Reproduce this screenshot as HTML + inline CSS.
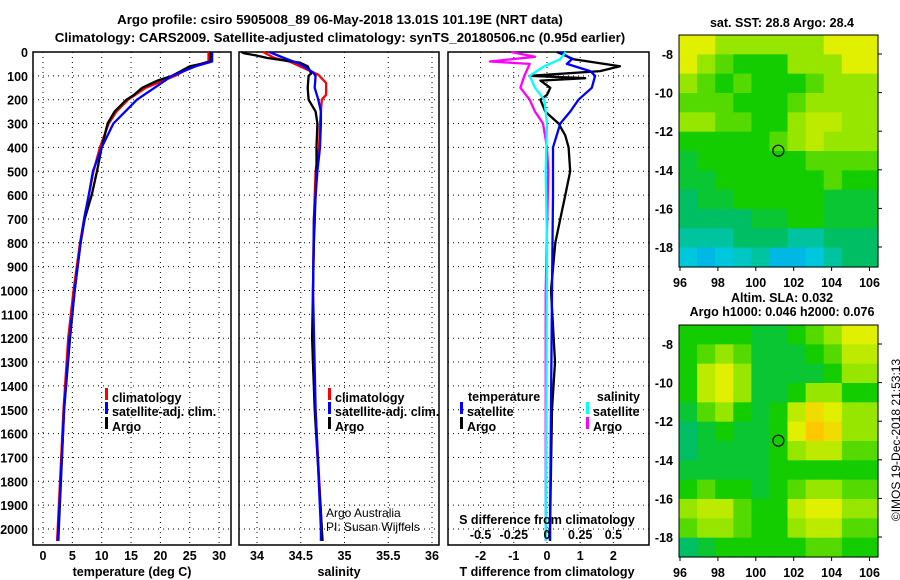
<!DOCTYPE html>
<html><head><meta charset="utf-8"><style>
html,body{margin:0;padding:0;background:#fff;}
svg{display:block;font-family:"Liberation Sans",sans-serif;}
.b{font-weight:bold;font-size:13.3px;}
.t{font-weight:bold;font-size:12.5px;}
</style></head><body>
<svg id="chart" width="900" height="580" viewBox="0 0 900 580" xmlns="http://www.w3.org/2000/svg">
<text class="b" x="340" y="24" text-anchor="middle">Argo profile: csiro 5905008_89 06-May-2018 13.01S 101.19E (NRT data)</text>
<text class="b" x="340" y="42" text-anchor="middle">Climatology: CARS2009. Satellite-adjusted climatology: synTS_20180506.nc (0.95d earlier)</text>
<g id="p1"></g>
<g id="p2"></g>
<g id="p3"></g>
<g id="m1"></g>
<g id="m2"></g>
<text x="897" y="440" font-size="12" text-anchor="middle" transform="rotate(-90 897 440)" dominant-baseline="middle">©IMOS 19-Dec-2018 21:53:13</text>
</svg>
<script>
// ---- data ----
const depthTicks = [0,100,200,300,400,500,600,700,800,900,1000,1100,1200,1300,1400,1500,1600,1700,1800,1900,2000];
const tempTicks = [0,5,10,15,20,25,30];
const salTicks = [34,34.5,35,35.5,36];
const salTickLabels = ["34","34.5","35","35.5","36"];
const tdiffTicks = [-2,-1,0,1,2];
const sdiffTicks = [-0.5,-0.25,0,0.25,0.5];
const sdiffTickLabels = ["-0.5","-0.25","0","0.25","0.5"];

const argoTempDepth = [0,40,50,60,80,100,120,150,180,200,250,300,400,500,600,700,800,900,1000,1200,1500,2000,2050];
const argoTemp      = [28.5,28.5,27,25,23.5,22,19.5,16.9,15.5,14.2,12.2,11,10,9.2,8.3,7.1,6.4,5.9,5.4,4.6,3.6,2.7,2.6];
const climTempDepth = [0,40,60,80,100,150,200,250,300,400,500,600,700,800,1000,1200,1500,2000,2050];
const climTemp      = [28.2,28.2,25.5,24,22.5,17.5,14.5,12.5,11.2,9.7,8.6,7.8,7,6.3,5.2,4.3,3.5,2.5,2.4];
const satTempDepth  = [0,40,60,80,100,150,200,250,300,400,500,600,700,800,1000,1200,1500,2000,2050];
const satTemp       = [28.8,28.8,26,24,22,19,16,14,12,10,8.5,7.8,7,6.4,5.4,4.5,3.6,2.6,2.5];

const argoSalDepth = [0,5,15,25,45,60,90,100,150,200,250,300,400,500,600,800,1000,1200,1500,2000,2050];
const argoSal      = [33.82,33.85,34.0,34.12,34.49,34.58,34.62,34.59,34.58,34.59,34.67,34.69,34.68,34.68,34.67,34.65,34.64,34.63,34.66,34.74,34.75];
const climSalDepth = [0,25,40,65,95,130,180,200,250,300,400,500,700,1000,1300,2000,2050];
const climSal      = [34.07,34.2,34.37,34.52,34.7,34.79,34.79,34.74,34.73,34.72,34.71,34.67,34.65,34.64,34.64,34.74,34.74];
const satSalDepth  = [0,25,50,85,100,150,200,250,300,400,500,700,1000,1500,2000,2050];
const satSal       = [34.14,34.31,34.49,34.64,34.67,34.66,34.7,34.73,34.73,34.72,34.69,34.65,34.64,34.67,34.73,34.73];

const tdArgoDepth = [0,30,60,80,100,110,120,150,180,200,250,300,350,400,500,600,700,800,1000,1300,1500,2000,2050];
const tdArgo      = [0.3,0.8,2.2,1.6,-0.5,1.15,-0.2,0.1,0,-0.2,-0.05,0.35,0.55,0.65,0.7,0.55,0.4,0.25,0.12,0.24,0.15,0.09,0.09];
const tdSatDepth  = [0,30,50,80,100,150,200,250,300,400,600,1000,2000,2050];
const tdSat       = [0.4,0.75,0.6,1.3,1.45,1.35,0.95,0.7,0.4,0.18,0.18,0.15,0.09,0.09];
const sdSatDepth  = [0,30,60,100,150,200,300,500,800,2000,2050];
const sdSat       = [0.14,0.1,-0.02,-0.13,-0.09,-0.02,0,-0.01,0,-0.01,-0.01];
const sdArgoDepth = [0,20,40,50,100,150,200,250,300,400,500,1000,2000,2050];
const sdArgo      = [-0.27,-0.09,-0.43,-0.13,-0.17,-0.2,-0.13,-0.09,-0.03,0,0.01,-0.01,-0.01,-0.01];

const lonTicks = [96,98,100,102,104,106];
const latTicks = [-8,-10,-12,-14,-16,-18];
const floatLon = 101.19, floatLat = -13.01;
const sstGrid = [
 [5,5,4,4,4,4,4,4,5,5,5],
 [5,4,3.5,3,3,3,4,4,4,5,5],
 [4,3.5,3,3.5,3,3,3,3.5,4,4,4],
 [3.5,3.5,3.5,3,3,3,3.5,4,4,4,4],
 [4,4,3.5,3.5,3,3,4,4.5,4.5,4,4],
 [3,3,3,3,3,3.5,4,4.5,4,4,4],
 [2.5,3,3,3,3,3,3,3.5,3.5,3.5,3.5],
 [2.5,2.5,3,3,3,3,3,3,3.5,3,3],
 [2,2.5,2.5,3,3,3,3,3,2.5,2.5,2.5],
 [2,2,2,2,2.5,2.5,3,3,2.5,2.5,2.5],
 [1.5,1.5,1.5,2,2,2,1.5,1.5,2,2,2],
 [1,0.8,1,1.2,1.5,0.8,0.8,1,1.5,2,2]];
const slaGrid = [
 [3,3,3,3,2.5,2.5,3,3.5,4,5,5],
 [3,3.5,4,3.5,2.5,2.5,2.5,3,3.5,4.5,4.5],
 [3,4.5,5,4,2.5,2.5,2.5,2.5,3,4,4],
 [3,4.5,5,4,2.5,2.5,3,4,4,3,3],
 [2.5,3.5,4,3,2.5,3,4.5,5.5,5,4,4],
 [2,2.5,3,2.5,2.5,3,5,6,5.5,4,4],
 [2,2.5,2.5,2.5,2.5,3,4,4.5,4.5,3.5,3.5],
 [2.5,2.5,2.5,2.5,2.5,3,3,3,3,3,3],
 [3,3.5,3,3,2.5,3,3.5,4,4,3.5,3.5],
 [4,4.5,4.5,3.5,3,3,4.5,5,5,4,4],
 [3.5,4,4,3.5,3,3,4,4.5,4.5,3.5,3.5],
 [2,2.5,3,3,3,3,3,3.5,3.5,3,3]];

// ---- helpers ----
const NS = "http://www.w3.org/2000/svg";
function mk(parent, tag, attrs){const e=document.createElementNS(NS,tag);for(const k in attrs)e.setAttribute(k,attrs[k]);parent.appendChild(e);return e;}
const Y0=52, YB=545;
const yD = d => Y0 + d*0.2385;
const xT = t => 43 + t*5.87;
const xS = s => 257 + (s-34)*87.5;
const xTD = v => 547 + v*33.2;
const xSD = v => 547 + v*132.8;

function panel(g, x0, x1, xticks, xfn, showDepthLabels){
  for(const d of depthTicks){
    const l=mk(g,'line',{x1:x0,x2:x1,y1:yD(d),y2:yD(d),stroke:'#000','stroke-width':1,'stroke-dasharray':'1 4'});
    
    
    if(showDepthLabels){
      const t=mk(g,'text',{x:28,y:yD(d)+5,'text-anchor':'end',class:'t'});t.textContent=d;
      
      
    }
  }
  for(const v of xticks){
    const l=mk(g,'line',{x1:xfn(v),x2:xfn(v),y1:Y0,y2:YB,stroke:'#000','stroke-width':1,'stroke-dasharray':'1 4'});
    
    
  }
  const f=mk(g,'rect',{x:x0,y:Y0,width:x1-x0,height:YB-Y0,fill:'none',stroke:'#000','stroke-width':1.5});
  
  
}
function series(g, depths, vals, xfn, color, name, w){
  const pts=depths.map((d,i)=>xfn(vals[i]).toFixed(1)+','+yD(d).toFixed(1)).join(' ');
  const p=mk(g,'polyline',{points:pts,fill:'none',stroke:color,'stroke-width':w||2.3,'stroke-linejoin':'round'});
  
  
}
function txt(g,x,y,s,cls,anchor,name,extra){
  const t=mk(g,'text',Object.assign({x:x,y:y,'text-anchor':anchor||'start'},cls?{class:cls}:{},extra||{}));t.textContent=s;
  
  
  return t;
}
function legendMark(g,x,y,color){
  const r=mk(g,'rect',{x:x,y:y-10,width:3,height:12,fill:color});
  
  
}

// ---- panel 1: temperature ----
const p1=document.getElementById('p1');
panel(p1,33,231,tempTicks,xT,true);
series(p1,climTempDepth,climTemp,xT,'#f00','climatology-temp-line');
series(p1,argoTempDepth,argoTemp,xT,'#000','argo-temp-line');
series(p1,satTempDepth,satTemp,xT,'#00f','satellite-temp-line');
tempTicks.forEach(v=>txt(p1,xT(v),560,v,'t','middle','temp-tick-label'));
txt(p1,132,576,'temperature (deg C)','t','middle','x-axis-title-temperature');
legendMark(p1,105,398,'#f00');txt(p1,112,402,'climatology','t','start','legend-entry-climatology');
legendMark(p1,105,412,'#00f');txt(p1,112,416,'satellite-adj. clim.','t','start','legend-entry-satellite');
legendMark(p1,105,427,'#000');txt(p1,112,431,'Argo','t','start','legend-entry-argo');

// ---- panel 2: salinity ----
const p2=document.getElementById('p2');
panel(p2,239,439,salTicks,xS,false);
series(p2,climSalDepth,climSal,xS,'#f00','climatology-salinity-line');
series(p2,argoSalDepth,argoSal,xS,'#000','argo-salinity-line');
series(p2,satSalDepth,satSal,xS,'#00f','satellite-salinity-line');
salTicks.forEach((v,i)=>txt(p2,xS(v),560,salTickLabels[i],'t','middle','salinity-tick-label'));
txt(p2,339,576,'salinity','t','middle','x-axis-title-salinity');
legendMark(p2,328,398,'#f00');txt(p2,335,402,'climatology','t','start','legend-entry-climatology');
legendMark(p2,328,412,'#00f');txt(p2,335,416,'satellite-adj. clim.','t','start','legend-entry-satellite');
legendMark(p2,328,427,'#000');txt(p2,335,431,'Argo','t','start','legend-entry-argo');
txt(p2,326,517,'Argo Australia',null,'start','credit-argo-australia',{'font-size':'12'});
txt(p2,326,531,'PI: Susan Wijffels',null,'start','credit-pi',{'font-size':'12'});

// ---- panel 3: differences ----
const p3=document.getElementById('p3');
panel(p3,448,649,tdiffTicks,xTD,false);
series(p3,sdArgoDepth,sdArgo,xSD,'#f0f','argo-salinity-diff-line');
series(p3,tdArgoDepth,tdArgo,xTD,'#000','argo-temp-diff-line');
series(p3,tdSatDepth,tdSat,xTD,'#00f','satellite-temp-diff-line');
series(p3,sdSatDepth,sdSat,xSD,'#0ff','satellite-salinity-diff-line');
tdiffTicks.forEach(v=>txt(p3,xTD(v),560,v,'t','middle','tdiff-tick-label'));
sdiffTicks.forEach((v,i)=>txt(p3,xSD(v),539,sdiffTickLabels[i],'t','middle','sdiff-tick-label'));
txt(p3,547,524,'S difference from climatology','t','middle','s-difference-axis-title');
txt(p3,547,576,'T difference from climatology','t','middle','x-axis-title-tdiff');
txt(p3,468,401,'temperature','t','start','legend-title-temperature');
legendMark(p3,460,412,'#00f');txt(p3,467,416,'satellite','t','start','legend-entry-temp-satellite');
legendMark(p3,460,427,'#000');txt(p3,467,431,'Argo','t','start','legend-entry-temp-argo');
txt(p3,640,401,'salinity','t','end','legend-title-salinity');
legendMark(p3,586,412,'#0ff');txt(p3,593,416,'satellite','t','start','legend-entry-sal-satellite');
legendMark(p3,586,427,'#f0f');txt(p3,593,431,'Argo','t','start','legend-entry-sal-argo');

// ---- maps ----
const stops=[[0,120,255],[0,200,220],[0,190,100],[20,205,0],[150,230,0],[225,240,0],[255,200,0]];
function cmap(v){const i=Math.max(0,Math.min(5,Math.floor(v)));const f=Math.max(0,Math.min(1,v-i));const a=stops[i],b=stops[i+1];return 'rgb('+a.map((c,k)=>Math.round(c+(b[k]-c)*f)).join(',')+')';}
function map(g, top, grid){
  const L=679,R=878,B=top+232;
  const xL=lon=>680+(lon-96)*18.95;
  const yL=lat=>top+19+(-8-lat)*19.3;
  const rows=grid.length, cols=grid[0].length;
  const cw=(R-L)/cols, ch=(B-top)/rows;
  grid.forEach((row,r)=>row.forEach((v,c)=>{
    const cell=mk(g,'rect',{x:L+c*cw,y:top+r*ch,width:cw+0.6,height:ch+0.6,fill:cmap(v)});
    
    
  }));
  const f=mk(g,'rect',{x:L,y:top,width:R-L,height:B-top,fill:'none',stroke:'#000','stroke-width':1});
  
  
  lonTicks.forEach(v=>{
    const t1=mk(g,'line',{x1:xL(v),x2:xL(v),y1:B,y2:B+4,stroke:'#000'});
    
    
    txt(g,xL(v),B+20,v,'t','middle','lon-tick-label');
  });
  latTicks.forEach(v=>{
    const t1=mk(g,'line',{x1:R,x2:R+4,y1:yL(v),y2:yL(v),stroke:'#000'});
    
    
    txt(g,673,yL(v)+5,v,'t','end','lat-tick-label');
  });
  const c=mk(g,'circle',{cx:xL(floatLon),cy:yL(floatLat),r:5.5,fill:'none',stroke:'#000','stroke-width':1.2});
  
  
}
const m1=document.getElementById('m1');
map(m1,35,sstGrid);
txt(m1,782,27,'sat. SST: 28.8 Argo: 28.4','t','middle','sst-map-title');
const m2=document.getElementById('m2');
map(m2,325,slaGrid);
txt(m2,782,302,'Altim. SLA: 0.032','t','middle','sla-map-title');
txt(m2,782,316,'Argo h1000: 0.046 h2000: 0.076','t','middle','sla-map-subtitle');
</script>
</body></html>
